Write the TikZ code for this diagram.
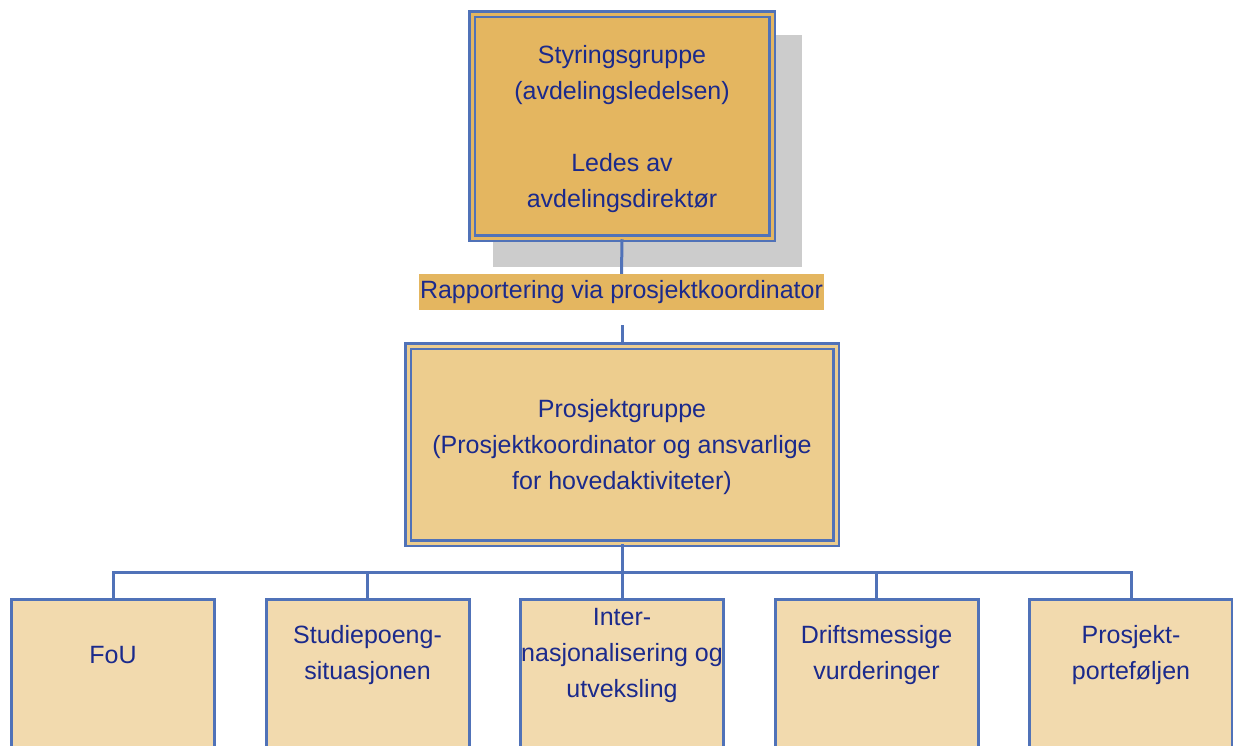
\documentclass[tikz,border=0pt]{standalone}
\usepackage{fontspec}
\setmainfont{Liberation Sans}
\definecolor{bordblue}{HTML}{5072B8}
\definecolor{txtblue}{HTML}{1B2A8C}
\definecolor{tantop}{HTML}{E4B660}
\definecolor{tanmid}{HTML}{EDCD8E}
\definecolor{tanbot}{HTML}{F2DAAE}
\definecolor{shadowgray}{HTML}{CCCCCC}
\tikzset{
  txt/.style={text=txtblue, font=\fontsize{25}{36}\selectfont, align=center},
  dblbox/.style={draw=bordblue, line width=2.5pt, double=#1, double distance=3pt, fill=#1, inner sep=0pt},
  subbox/.style={draw=bordblue, line width=3pt, fill=tanbot, minimum width=203pt, minimum height=220pt, anchor=north, inner sep=0pt},
  conn/.style={draw=bordblue, line width=3pt},
}
\begin{document}
\begin{tikzpicture}[x=1pt,y=-1pt]
\useasboundingbox (0,0) rectangle (1233,745);
\begin{scope}
\clip (0,0) rectangle (1233,745);
% shadow
\fill[shadowgray] (493,35) rectangle (802,267);
% top box
\node[dblbox=tantop, minimum width=300pt, minimum height=224pt] (top) at (622,126) {};
\node[txt] (toptxt) at (622,129) {Styringsgruppe\\(avdelingsledelsen)\\[36pt]Ledes av\\avdelingsdirektør};
% label
\node[txt, fill=tantop, minimum width=405pt, minimum height=36pt, inner sep=0pt] (lab) at (621.5,292) {Rapportering via prosjektkoordinator};
\coordinate (gapc) at (622,325);
% middle box
\node[dblbox=tanmid, minimum width=428pt, minimum height=197pt] (mid) at (622,444.5) {};
\node[txt] (midtxt) at (622,447) {Prosjektgruppe\\(Prosjektkoordinator og ansvarlige\\for hovedaktiviteter)};
% connectors top
\draw[conn] (top.south) -- (lab.north);
\draw[conn] (gapc) -- (mid.north);
% sub boxes
\node[subbox] (b1) at (113,598) {};
\node[subbox] (b2) at (367.5,598) {};
\node[subbox] (b3) at (622,598) {};
\node[subbox] (b4) at (876.5,598) {};
\node[subbox] (b5) at (1131,598) {};
\foreach \b in {b1,b2,b3,b4,b5}{
  \draw[conn] (mid.south) -- ++(0,28.5) -| (\b.north);
}
\node[txt] (t1) at (113,655) {FoU};
\node[txt] (t2) at (367.5,655) {Studiepoeng-\\situasjonen};
\node[txt] (t3) at (622,655) {Inter-\\nasjonalisering og\\utveksling};
\node[txt] (t4) at (876.5,655) {Driftsmessige\\vurderinger};
\node[txt] (t5) at (1131,655) {Prosjekt-\\porteføljen};
\end{scope}
\end{tikzpicture}
\end{document}
